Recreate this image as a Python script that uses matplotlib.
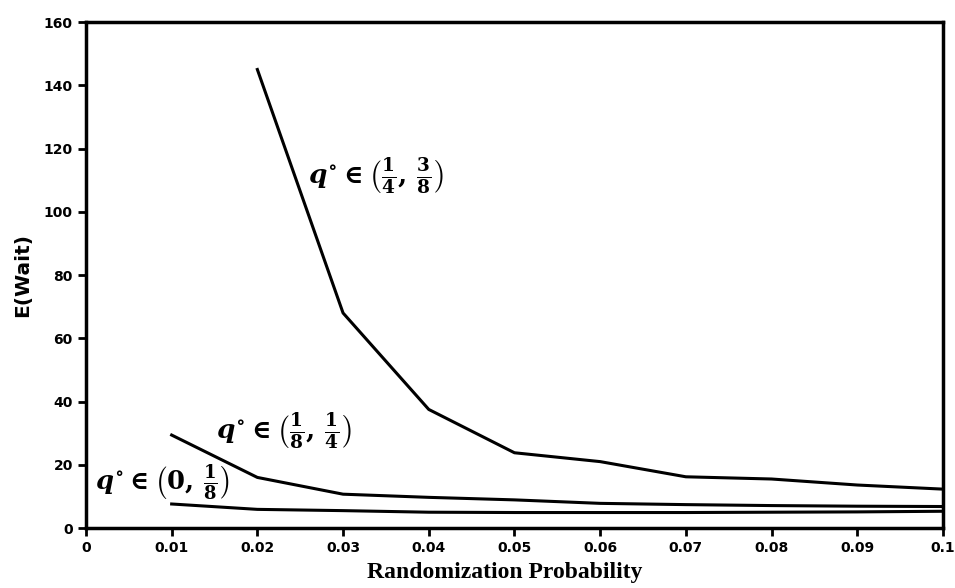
import matplotlib
matplotlib.use("Agg")
import matplotlib.pyplot as plt

# Data
x_high = [0.02, 0.03, 0.04, 0.05, 0.06, 0.07, 0.08, 0.09, 0.10]
y_high = [145, 68, 37.5, 23.8, 21, 16.2, 15.5, 13.6, 12.3]

x_mid = [0.01, 0.02, 0.03, 0.04, 0.05, 0.06, 0.07, 0.08, 0.09, 0.10]
y_mid = [29.4, 16, 10.7, 9.7, 8.9, 7.8, 7.4, 7.1, 6.9, 6.8]

x_low = [0.01, 0.02, 0.03, 0.04, 0.05, 0.06, 0.07, 0.08, 0.09, 0.10]
y_low = [7.6, 5.9, 5.5, 5.0, 4.9, 4.9, 4.9, 5.0, 5.1, 5.3]

x_ticks = [0, 0.01, 0.02, 0.03, 0.04, 0.05, 0.06, 0.07, 0.08, 0.09, 0.1]
x_tick_labels = ["0", "0.01", "0.02", "0.03", "0.04", "0.05", "0.06", "0.07", "0.08", "0.09", "0.1"]
y_ticks = [0, 20, 40, 60, 80, 100, 120, 140, 160]
y_tick_labels = [str(v) for v in y_ticks]

labels = [r"$q^{\circ} \in \left(\frac{1}{4},\, \frac{3}{8}\right)$",
          r"$q^{\circ} \in \left(\frac{1}{8},\, \frac{1}{4}\right)$",
          r"$q^{\circ} \in \left(0,\, \frac{1}{8}\right)$"]

plt.rcParams['mathtext.fontset'] = 'custom'
plt.rcParams['mathtext.rm'] = 'DejaVu Serif:bold'
plt.rcParams['mathtext.it'] = 'DejaVu Serif:italic:bold'
plt.rcParams['mathtext.bf'] = 'DejaVu Serif:bold'

fig = plt.figure(figsize=(9.55, 5.88), dpi=100)
ax = fig.add_axes([0.090, 0.102, 0.8974, 0.8605])

lw = 2.2
ax.plot(x_high, y_high, color='black', lw=lw)
ax.plot(x_mid, y_mid, color='black', lw=lw)
ax.plot(x_low, y_low, color='black', lw=lw)

ax.set_xlim(0, 0.1)
ax.set_ylim(0, 160)
ax.set_xticks(x_ticks)
ax.set_xticklabels(x_tick_labels)
ax.set_yticks(y_ticks)
ax.set_yticklabels(y_tick_labels)

for s in ax.spines.values():
    s.set_linewidth(2.5)
    s.set_color('black')

ax.tick_params(axis='both', direction='out', length=6, width=2, colors='black',
               labelsize=10)
for t in ax.get_xticklabels() + ax.get_yticklabels():
    t.set_fontweight('bold')
    t.set_family('DejaVu Sans')

ax.set_xlabel("Randomization Probability", fontsize=17, fontweight='bold',
              family='Liberation Serif')
ax.xaxis.set_label_coords(0.489, -0.068, transform=ax.transAxes)
ax.xaxis.label.set_va('top')
ax.set_ylabel("E(Wait)", fontsize=14.5, fontweight='bold',
              family='DejaVu Sans', labelpad=8)

ax.text(0.0259, 111, labels[0], fontsize=19, ha='left', va='center')
ax.text(0.0152, 30.4, labels[1], fontsize=19, ha='left', va='center')
ax.text(0.00105, 14.2, labels[2], fontsize=18.5, ha='left', va='center')

fig.savefig("out.png", dpi=100)
